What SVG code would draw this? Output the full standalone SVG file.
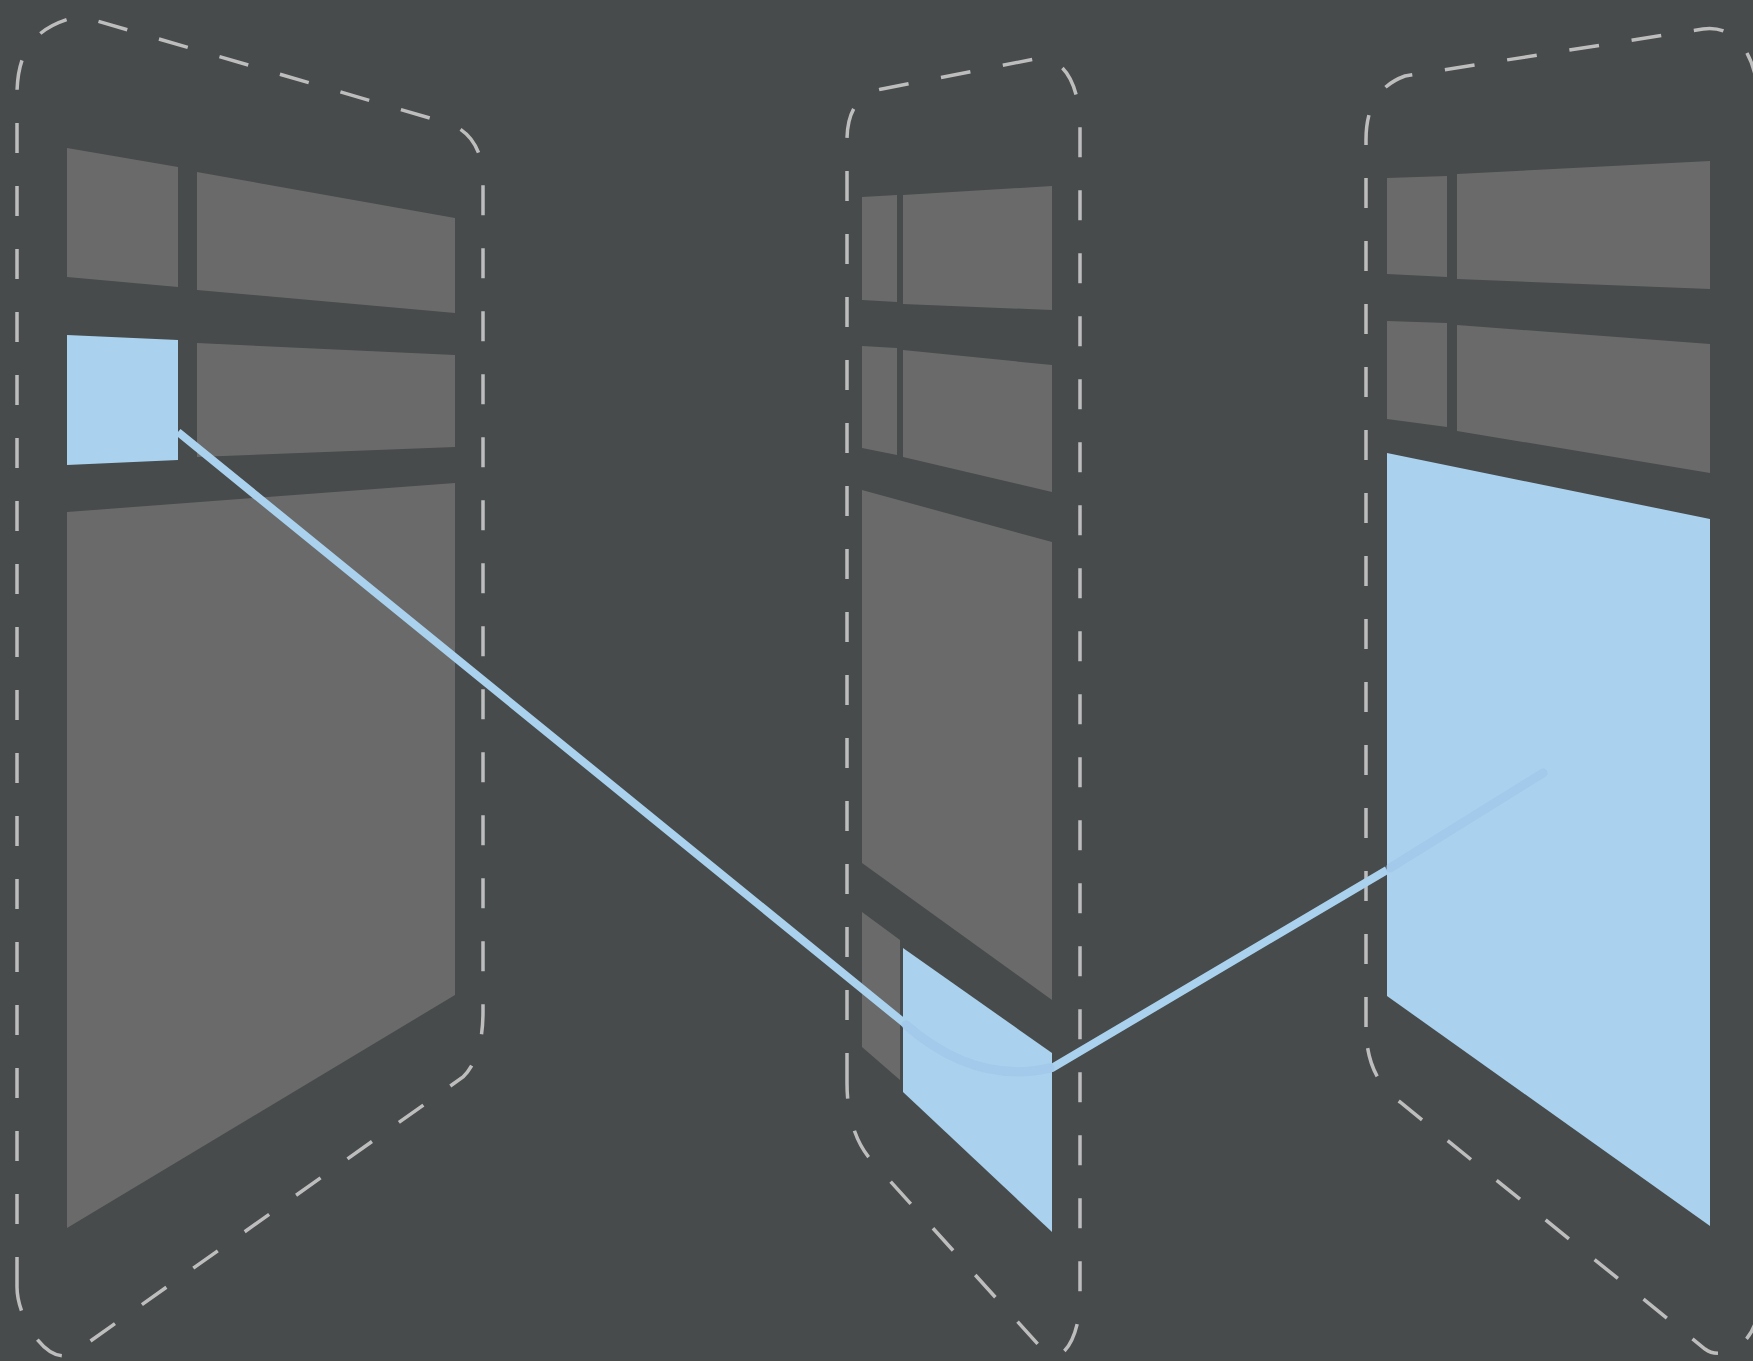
<svg xmlns="http://www.w3.org/2000/svg" width="1753" height="1361" viewBox="0 0 1753 1361">
<style>
.bg{fill:#474b4c}
.cell{fill:#6a6a6a}
.hi{fill:#aad1ed}
.outline{fill:none;stroke:#bdbdbd;stroke-width:3.5;stroke-dasharray:30 33;stroke-linecap:butt}
.conn{fill:none;stroke:#aad1ed;stroke-width:8;stroke-linejoin:round}
.ghost{fill:none;stroke:#9cc2e6;stroke-width:9;stroke-linecap:round;opacity:0.45}
</style>
<rect class="bg" x="0" y="0" width="1753" height="1361"/>
<g id="screen-1">
<path class="outline" d="M17,1287 L17,95 C17,50 35,26 80,16 L447,123 C470,130 483,150 483,180 L483,1011 C483,1045 475,1065 463,1077 L75,1352 C50,1370 17,1320 17,1287 Z"/>
<polygon class="cell" points="67,148 178,167 178,287 67,277"/>
<polygon class="cell" points="197,172 455,218 455,313 197,290"/>
<polygon class="hi" points="67,335 178,340 178,460 67,465"/>
<polygon class="cell" points="197,343 455,355 455,447 197,457"/>
<polygon class="cell" points="67,512 455,483 455,995 67,1228"/>
</g>
<g id="screen-2">
<path class="outline" d="M847,1083 L847,140 C847,110 860,93 882,89 L1035,59 C1058,55 1080,75 1080,130 L1080,1300 C1080,1335 1062,1368 1045,1352 L872,1161 C858,1146 847,1120 847,1083 Z"/>
<polygon class="cell" points="862,197 897,195 897,302 862,300"/>
<polygon class="cell" points="903,195 1052,186 1052,310 903,304"/>
<polygon class="cell" points="862,346 897,348 897,455 862,448"/>
<polygon class="cell" points="903,350 1052,365 1052,492 903,457"/>
<polygon class="cell" points="862,490 1052,542 1052,1000 862,863"/>
<polygon class="cell" points="862,912 900,940 900,1080 862,1047"/>
<polygon class="hi" points="903,948 1052,1053 1052,1232 903,1092"/>
</g>
<g id="screen-3">
<path class="outline" d="M1366,1027 L1366,140 C1366,105 1380,85 1405,76 L1703,29 C1730,25 1752,45 1758,90 L1758,1310 C1755,1345 1722,1362 1705,1349 L1400,1102 C1380,1087 1366,1065 1366,1027 Z"/>
<polygon class="cell" points="1387,178 1447,176 1447,277 1387,274"/>
<polygon class="cell" points="1457,174 1710,161 1710,289 1457,279"/>
<polygon class="cell" points="1387,321 1447,323 1447,427 1387,419"/>
<polygon class="cell" points="1457,325 1710,344 1710,473 1457,431"/>
<polygon class="hi" points="1387,453 1710,519 1710,1226 1387,996"/>
</g>
<g id="connectors">
<path class="conn" d="M178,432 L903,1022 Q975,1085 1052,1068 L1387,870"/>
<path class="ghost" d="M1390,868 L1543,773"/>
<path class="ghost" d="M906,1025 Q975,1085 1050,1068" opacity="0.25"/>
</g>
</svg>
